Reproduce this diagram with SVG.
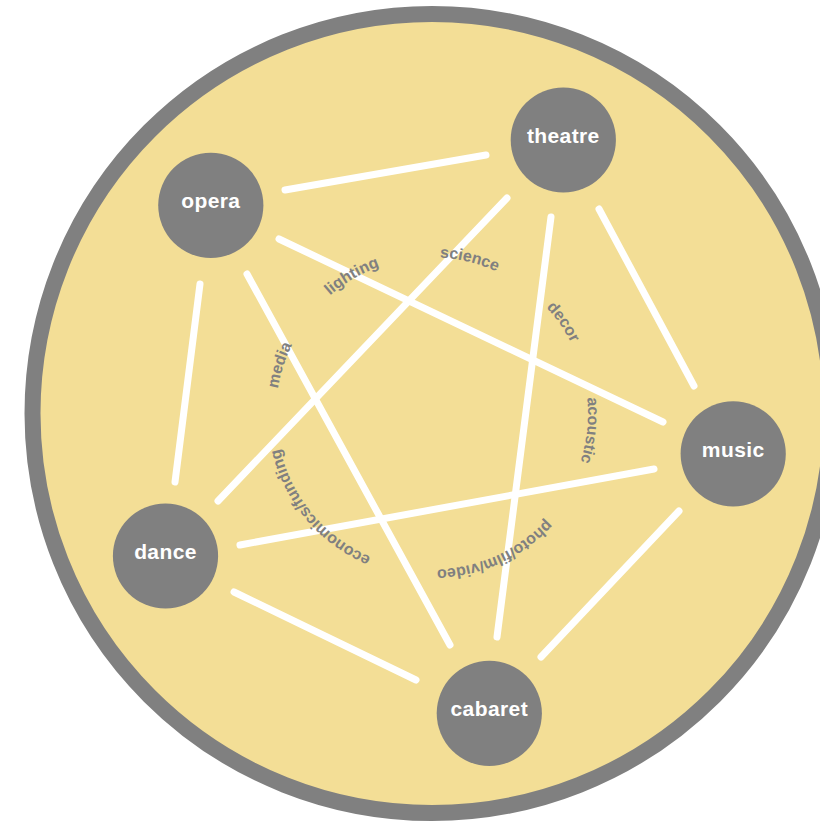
<svg xmlns="http://www.w3.org/2000/svg" xmlns:xlink="http://www.w3.org/1999/xlink" width="820" height="829" viewBox="0 0 820 829">
  <style>
    .node circle { fill: #808080; }
    .node text { fill: #ffffff; font-family: "Liberation Sans", Arial, sans-serif; font-weight: bold; font-size: 21px; letter-spacing: 0.4px; text-anchor: middle; }
    .edge { stroke: #ffffff; stroke-width: 7; stroke-linecap: round; fill: none; }
    .lbl { fill: #808080; font-family: "Liberation Sans", Arial, sans-serif; font-weight: bold; font-size: 16px; text-anchor: middle; }
  </style>
  <defs>
    <path id="ring" d="M 276,413.5 A 156,156 0 1 1 588,413.5 A 156,156 0 1 1 276,413.5 Z"/>
  </defs>
  <rect width="820" height="829" fill="#ffffff"/>
  <circle id="frame" cx="432" cy="413.5" r="399.5" fill="#f3de96" stroke="#808080" stroke-width="16"/>
  <g id="connectors">
    <line class="edge" x1="285" y1="190" x2="486" y2="155"/>
    <line class="edge" x1="279" y1="239" x2="663" y2="422"/>
    <line class="edge" x1="200" y1="284" x2="175" y2="482"/>
    <line class="edge" x1="247" y1="274" x2="450" y2="645"/>
    <line class="edge" x1="507" y1="198" x2="218" y2="501"/>
    <line class="edge" x1="551" y1="217" x2="497" y2="637"/>
    <line class="edge" x1="599" y1="209" x2="694" y2="386"/>
    <line class="edge" x1="654" y1="469" x2="240" y2="545"/>
    <line class="edge" x1="679" y1="511" x2="541" y2="657"/>
    <line class="edge" x1="234" y1="592" x2="416" y2="680"/>
  </g>
  <g id="edge-labels">
    <text class="lbl"><textPath xlink:href="#ring" href="#ring" startOffset="4.9%">media</textPath></text>
    <text class="lbl"><textPath xlink:href="#ring" href="#ring" startOffset="16.6%">lighting</textPath></text>
    <text class="lbl"><textPath xlink:href="#ring" href="#ring" startOffset="28.8%">science</textPath></text>
    <text class="lbl"><textPath xlink:href="#ring" href="#ring" startOffset="40.3%">decor</textPath></text>
    <text class="lbl"><textPath xlink:href="#ring" href="#ring" startOffset="51.7%">acoustic</textPath></text>
    <text class="lbl"><textPath xlink:href="#ring" href="#ring" startOffset="68.2%">photo/film/video</textPath></text>
    <text class="lbl"><textPath xlink:href="#ring" href="#ring" startOffset="88.9%">economics/funding</textPath></text>
  </g>
  <g id="theatre" class="node">
    <circle cx="563.3" cy="140" r="52.6"/>
    <text x="563.3" y="142.6">theatre</text>
  </g>
  <g id="opera" class="node">
    <circle cx="210.8" cy="205.3" r="52.6"/>
    <text x="210.8" y="208.1">opera</text>
  </g>
  <g id="music" class="node">
    <circle cx="733.2" cy="453.8" r="52.6"/>
    <text x="733.2" y="456.6">music</text>
  </g>
  <g id="dance" class="node">
    <circle cx="165.5" cy="556" r="52.6"/>
    <text x="165.5" y="558.8">dance</text>
  </g>
  <g id="cabaret" class="node">
    <circle cx="489.3" cy="713.3" r="52.6"/>
    <text x="489.3" y="716.1">cabaret</text>
  </g>
</svg>
